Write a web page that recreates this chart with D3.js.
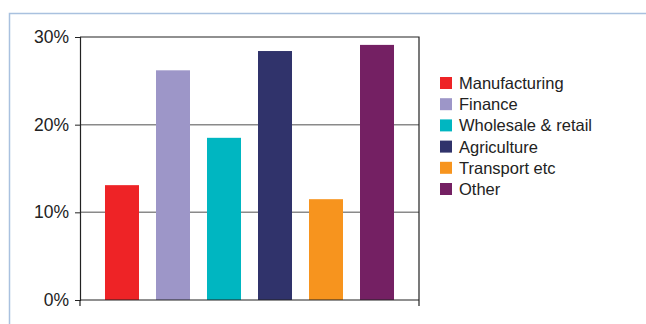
<!DOCTYPE html>
<html><head><meta charset="utf-8">
<script src="https://cdn.jsdelivr.net/npm/d3@7"></script>
<style>body{margin:0;background:#fff}svg{display:block}</style>
</head><body>
<svg id="c" width="646" height="324"></svg>
<script>
const categories = ["Manufacturing","Finance","Wholesale & retail","Agriculture","Transport etc","Other"];
const values = [13.1, 26.2, 18.5, 28.4, 11.5, 29.1];
const colors = ["#ee2326","#9d96c8","#00b6c1","#30336b","#f7941e","#742063"];
const yTicks = [0, 10, 20, 30];

const svg = d3.select("#c");
const L = 80, R = 419, T = 37, B = 300;
const font = "Liberation Sans, Arial, Helvetica, sans-serif";

// outer frame
svg.append("path").attr("d", "M9.5,324 V13.5 H646").attr("fill","none")
  .attr("stroke","#a9c1df").attr("stroke-width",1.5);

const x = d3.scaleBand().domain(categories).range([L, R]).paddingInner(1/3).paddingOuter(0.49);
const y = d3.scaleLinear().domain([0, 30]).range([B, T]);

// gridlines
svg.append("g").selectAll("line").data(yTicks.filter(d => d > 0 && d < 30)).join("line")
  .attr("x1", L).attr("x2", R).attr("y1", d => y(d)).attr("y2", d => y(d))
  .attr("stroke", "#8a8a8a").attr("stroke-width", 1.5);

// bars
svg.append("g").selectAll("rect").data(values).join("rect")
  .attr("x", (d,i) => x(categories[i])).attr("width", x.bandwidth())
  .attr("y", d => y(d)).attr("height", d => B - y(d))
  .attr("fill", (d,i) => colors[i]);

// frame top & right
svg.append("path").attr("d", `M${L},${T} H${R} V${B}`).attr("fill","none")
  .attr("stroke","#222").attr("stroke-width",1.2);

// y axis
const ya = svg.append("g").attr("transform", `translate(${L},0)`)
  .call(d3.axisLeft(y).tickValues(yTicks).tickFormat(d => d + "%").tickSize(5).tickPadding(6));
ya.select(".domain").attr("stroke","#222").attr("stroke-width",1.2);
ya.selectAll(".tick line").attr("stroke","#222");
ya.selectAll("text").attr("font-family", font).attr("font-size", 17.5).attr("fill", "#222");

// x axis
svg.append("line").attr("x1", L).attr("x2", R).attr("y1", B).attr("y2", B)
  .attr("stroke","#222").attr("stroke-width",1.2);
svg.append("g").selectAll("line").data([L, R]).join("line")
  .attr("x1", d => d).attr("x2", d => d).attr("y1", B).attr("y2", B + 6)
  .attr("stroke","#222").attr("stroke-width",1.2);

// legend
const lg = svg.append("g").attr("transform", "translate(440,77)");
const rows = lg.selectAll("g").data(categories).join("g")
  .attr("transform", (d,i) => `translate(0,${i*21.2})`);
rows.append("rect").attr("width", 12).attr("height", 12).attr("fill", (d,i) => colors[i]);
rows.append("text").attr("x", 19).attr("y", 6).attr("dy", "0.36em")
  .attr("font-family", font).attr("font-size", 16.5).attr("fill", "#222").text(d => d);
</script>
</body></html>
